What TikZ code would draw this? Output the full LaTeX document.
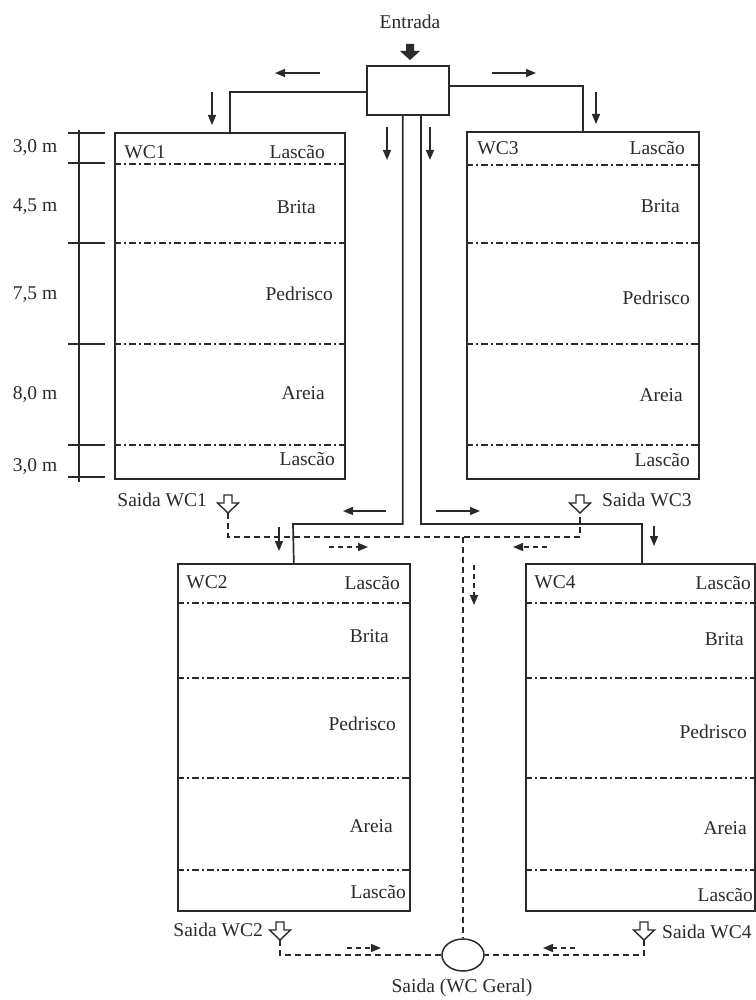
\documentclass[tikz,border=0pt]{standalone}
\usepackage{fontspec}
\setmainfont{Liberation Serif}
\usetikzlibrary{arrows.meta,shapes.geometric}
\definecolor{ink}{HTML}{2A2A2A}
\begin{document}
\begin{tikzpicture}[x=1pt,y=-1pt,
  every node/.style={font=\fontsize{19.5}{21}\selectfont, text=ink},
  box/.style={draw=ink, line width=1.6pt, anchor=north west, inner sep=0pt},
  lbl/.style={inner sep=0pt},
  pipe/.style={draw=ink, line width=1.7pt},
  flow/.style={draw=ink, line width=1.5pt, dash pattern=on 6pt off 4pt},
  layer/.style={draw=ink, line width=1.2pt, dash pattern=on 7pt off 3pt on 2pt off 3pt},
  arr/.style={draw=ink, line width=1.4pt, -{Triangle[length=10pt,width=8pt]}},
  darr/.style={arr, dash pattern=on 5pt off 4pt},
  hollow/.style={draw=ink, line width=1.4pt, line join=miter, fill=white},
]
\useasboundingbox (0,0) rectangle (755,1000);

% --- inlet ---
\node (entr) at (410,22) {Entrada};
\fill[ink] (406,44) -- (414,44) -- (414,51) -- (420,51) -- (410,60) -- (400,51) -- (406,51) -- cycle;
\node[box, minimum width=82pt, minimum height=49pt] (dist) at (366,65) {};

% --- wetlands ---
\node[box, minimum width=230pt, minimum height=346pt] (wc1) at (114,132) {};
\node[box, minimum width=232pt, minimum height=347pt] (wc3) at (466,131) {};
\node[box, minimum width=232pt, minimum height=347pt] (wc2) at (177,563) {};
\node[box, minimum width=229pt, minimum height=347pt] (wc4) at (525,563) {};

\foreach \y in {164,243,344,445} \draw[layer] (114,\y) -- (344,\y);
\foreach \y in {165,243,344,445} \draw[layer] (466,\y) -- (698,\y);
\foreach \y in {603,678,778,870} \draw[layer] (177,\y) -- (409,\y);
\foreach \y in {603,678,778,870} \draw[layer] (525,\y) -- (754,\y);

% WC1 labels
\node[lbl] (n1) at (145,152) {WC1};
\node[lbl, anchor=east] (a1) at (325,152) {Lascão};
\node[lbl, anchor=east] (b1) at (316,207) {Brita};
\node[lbl, anchor=east] (c1) at (333,294) {Pedrisco};
\node[lbl, anchor=east] (d1) at (325,393) {Areia};
\node[lbl, anchor=east] (e1) at (335,459) {Lascão};
% WC3 labels
\node[lbl] (n3) at (498,148) {WC3};
\node[lbl, anchor=east] (a3) at (685,148) {Lascão};
\node[lbl, anchor=east] (b3) at (680,206) {Brita};
\node[lbl, anchor=east] (c3) at (690,298) {Pedrisco};
\node[lbl, anchor=east] (d3) at (683,395) {Areia};
\node[lbl, anchor=east] (e3) at (690,460) {Lascão};
% WC2 labels
\node[lbl] (n2) at (207,582) {WC2};
\node[lbl, anchor=east] (a2) at (400,583) {Lascão};
\node[lbl, anchor=east] (b2) at (389,636) {Brita};
\node[lbl, anchor=east] (c2) at (396,724) {Pedrisco};
\node[lbl, anchor=east] (d2) at (393,826) {Areia};
\node[lbl, anchor=east] (e2) at (406,892) {Lascão};
% WC4 labels
\node[lbl] (n4) at (555,582) {WC4};
\node[lbl, anchor=east] (a4) at (751,583) {Lascão};
\node[lbl, anchor=east] (b4) at (744,639) {Brita};
\node[lbl, anchor=east] (c4) at (747,732) {Pedrisco};
\node[lbl, anchor=east] (d4) at (747,828) {Areia};
\node[lbl, anchor=east] (e4) at (753,895) {Lascão};

% --- scale ---
\draw[ink, line width=1.5pt] (79,130) -- (79,482);
\foreach \y in {133,163,243,344,445,477} \draw[ink, line width=1.5pt] (68,\y) -- (105,\y);
\node[lbl] (s1) at (35,148) {3,0 m};
\node[lbl] (s2) at (35,207) {4,5 m};
\node[lbl] (s3) at (35,295) {7,5 m};
\node[lbl] (s4) at (35,395) {8,0 m};
\node[lbl] (s5) at (35,467) {3,0 m};

% --- feed pipes ---
\coordinate (bendL) at (293,524);
\coordinate (bendR) at (642,524);
\draw[pipe] ([yshift=-1.5pt]dist.west) -| (wc1.north);
\draw[pipe] ([yshift=4.5pt]dist.east) -| (wc3.north);
\draw[pipe] ([xshift=-5pt]dist.south) |- (bendL) -- (wc2.north);
\draw[pipe] ([xshift=13pt]dist.south) |- (bendR) -- (bendR |- wc4.north);

% flow arrows (solid)
\draw[arr] (320,73) -- (275,73);
\draw[arr] (492,73) -- (536,73);
\draw[arr] (212,92) -- (212,125);
\draw[arr] (596,92) -- (596,124);
\draw[arr] (387,127) -- (387,160);
\draw[arr] (430,127) -- (430,160);
\draw[arr] (386,511) -- (343,511);
\draw[arr] (436,511) -- (480,511);
\draw[arr] (279,527) -- (279,551);
\draw[arr] (654,526) -- (654,546);

% --- outlets (hollow block arrows) ---
\foreach \x/\y/\n in {228/495/o1, 580/495/o3, 280/922/o2, 644/922/o4}{
  \draw[hollow] (\x-4,\y) -- (\x+4,\y) -- (\x+4,\y+8) -- (\x+10.5,\y+8) -- (\x,\y+18)
     -- (\x-10.5,\y+8) -- (\x-4,\y+8) -- cycle;
  \coordinate (\n) at (\x,\y+18);
}
\node[lbl, anchor=east] (t1) at (207,500) {Saida WC1};
\node[lbl, anchor=west] (t3) at (602,500) {Saida WC3};
\node[lbl, anchor=east] (t2) at (263,930) {Saida WC2};
\node[lbl, anchor=west] (t4) at (662,932) {Saida WC4};

\node[draw=ink, line width=1.5pt, ellipse, minimum width=42pt, minimum height=32pt, inner sep=0pt] (out) at (463,955) {};
\node[lbl] (tout) at (462,988) {Saida (WC Geral)};

\coordinate (j1) at (463,537);
\draw[flow] (o1) |- (j1) -| (o3);
\draw[flow] (j1) -- (out.north);
\draw[flow] (o2) |- (out.west);
\draw[flow] (o4) |- (out.east);

% flow arrows (dashed)
\draw[darr] (329,547) -- (368,547);
\draw[darr] (547,547) -- (513,547);
\draw[darr] (474,565) -- (474,605);
\draw[darr] (347,948) -- (381,948);
\draw[darr] (575,948) -- (543,948);
\end{tikzpicture}
\end{document}
